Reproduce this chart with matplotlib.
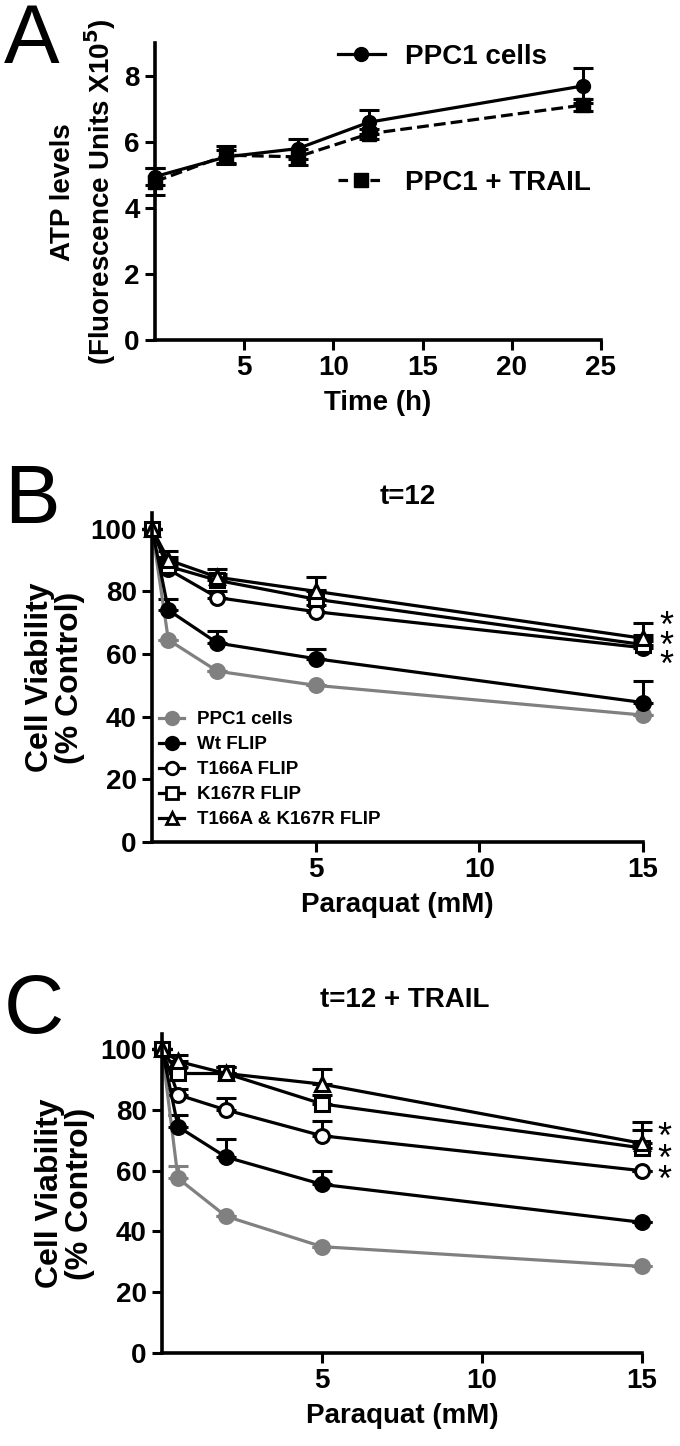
import numpy as np
import matplotlib
matplotlib.use("Agg")
import matplotlib.pyplot as plt
from matplotlib.lines import Line2D

plt.rcParams["font.family"] = ["Liberation Sans", "DejaVu Sans"]
plt.rcParams["font.weight"] = "bold"

# ===== Panel A data =====
TIME_H = [0, 4, 8, 12, 24]
ATP_CELLS = [4.95, 5.55, 5.8, 6.6, 7.7]
ATP_CELLS_ERR = [0.25, 0.2, 0.3, 0.37, 0.53]
ATP_TRAIL = [4.8, 5.6, 5.55, 6.25, 7.12]
ATP_TRAIL_ERR = [0.4, 0.28, 0.25, 0.15, 0.18]

# ===== Panel B / C data =====
PARAQUAT = [0, 0.5, 2, 5, 15]
SERIES = ["PPC1 cells", "Wt FLIP", "T166A FLIP", "K167R FLIP", "T166A & K167R FLIP"]

B_VALUES = [
    [100, 64.5, 54.5, 50, 40.5],
    [100, 74, 63.5, 58.5, 44.5],
    [100, 87, 78, 73.5, 62],
    [100, 88, 83.5, 77.5, 63],
    [100, 90, 84.5, 80, 65],
]
B_ERR = [
    [0, 0, 0, 0, 0],
    [0, 3.5, 4, 3, 7],
    [0, 2, 2, 2, 2],
    [0, 3, 2, 3, 3],
    [0, 3, 2.5, 4.5, 5],
]
# significance marks: (centre y, number of stars, line spacing)
B_STARS = (65.2, 3, 0.42)

C_VALUES = [
    [100, 57.5, 45, 35, 28.5],
    [100, 74.5, 64.5, 55.5, 43],
    [100, 85, 80, 71.5, 60],
    [100, 92, 92, 82, 67.5],
    [100, 96, 92, 88.5, 69],
]
C_ERR = [
    [0, 4, 0, 0, 0],
    [0, 4, 6, 4.5, 0],
    [0, 2, 4, 5, 0],
    [0, 2, 2, 3, 6],
    [0, 2, 2, 5, 7],
]
C_STARS = (66.5, 3, 0.5)

# style per series: color, marker, face
STYLES = [
    ("#808080", "o", "#808080"),
    ("black", "o", "black"),
    ("black", "o", "white"),
    ("black", "s", "white"),
    ("black", "^", "white"),
]

W, H = 680, 1446
FS = 20
LW = 2.3


def box(left, right, bottom, top):
    # pixel box -> figure fraction
    return [left / W, 1 - bottom / H, (right - left) / W, (bottom - top) / H]


def style_axes(ax):
    for s in ["top", "right"]:
        ax.spines[s].set_visible(False)
    for s in ["left", "bottom"]:
        ax.spines[s].set_linewidth(2.6)
    ax.tick_params(width=2.2, length=7, labelsize=FS, direction="out", pad=4)
    for lab in ax.get_xticklabels() + ax.get_yticklabels():
        lab.set_fontweight("bold")


fig = plt.figure(figsize=(W / 100, H / 100), dpi=100)

# ===== Panel A =====
axA = fig.add_axes(box(155, 601, 340, 43))
axA.errorbar(TIME_H, ATP_CELLS, yerr=ATP_CELLS_ERR, color="black", lw=LW,
             marker="o", ms=10, capsize=7, capthick=2.2, elinewidth=2.2, clip_on=False)
axA.errorbar(TIME_H, ATP_TRAIL, yerr=ATP_TRAIL_ERR, color="black", lw=LW, ls="--",
             marker="s", ms=10, capsize=7, capthick=2.2, elinewidth=2.2, clip_on=False)
axA.set_xlim(0, 25)
axA.set_ylim(0, 9)
axA.set_xticks([5, 10, 15, 20, 25])
axA.set_yticks([0, 2, 4, 6, 8])
axA.set_xlabel("Time (h)", fontsize=FS, fontweight="bold", labelpad=6)
style_axes(axA)
# two-line y label, each line placed on its own
fig.text(63 / W, 1 - 192 / H, "ATP levels", fontsize=FS, fontweight="bold",
         rotation=90, ha="center", va="center")
fig.text(100 / W, 1 - 192 / H, "(Fluorescence Units X10$^{\\mathbf{5}}$)", fontsize=FS,
         fontweight="bold", rotation=90, ha="center", va="center")
axA.legend([Line2D([], [], color="black", lw=LW, marker="o", ms=10),
            Line2D([], [], color="black", lw=LW, ls=(0, (3, 2)), marker="s", ms=10)],
           ["PPC1 cells", "PPC1 + TRAIL"], loc="center left",
           bbox_to_anchor=(0.41, 0.74), frameon=False, labelspacing=3.6,
           borderpad=0, borderaxespad=0, handlelength=1.7, handletextpad=0.7,
           prop={"size": FS, "weight": "bold"})
fig.text(4 / W, 1 - 63 / H, "A", fontsize=60, fontweight="normal", ha="left", va="baseline")


def draw_viability(ax, values, errs, stars):
    for (col, mk, face), vals, err in zip(STYLES, values, errs):
        ax.errorbar(PARAQUAT, vals, yerr=[np.zeros(len(err)), err], color=col, lw=LW,
                    marker=mk, ms=10, mfc=face, mec=col, mew=2.2, capsize=7,
                    capthick=2.2, elinewidth=2.2, clip_on=False)
    ax.set_xlim(0, 15)
    ax.set_ylim(0, 105)
    ax.set_xticks([5, 10, 15])
    ax.set_yticks([0, 20, 40, 60, 80, 100])
    ax.set_xlabel("Paraquat (mM)", fontsize=FS, fontweight="bold", labelpad=6)
    ax.set_ylabel("Cell Viability\n(% Control)", fontsize=23, fontweight="bold",
                  labelpad=4, linespacing=1.0)
    style_axes(ax)
    yv, n, spacing = stars
    # asterisks sit high in the line box, so shift the block down a little
    ax.text(15.7, yv - 3, "\n".join("*" * n), fontsize=26, fontweight="normal",
            linespacing=spacing, ha="center", va="center", clip_on=False)


# ===== Panel B =====
axB = fig.add_axes(box(152, 643, 842, 513))
draw_viability(axB, B_VALUES, B_ERR, B_STARS)
handles = [Line2D([], [], color=c, lw=LW, marker=m, ms=9, mfc=f, mec=c, mew=2)
           for c, m, f in STYLES]
axB.legend(handles, SERIES, loc="center left", bbox_to_anchor=(0.015, 0.22),
           frameon=False, borderpad=0, borderaxespad=0, handlelength=1.3,
           handletextpad=0.7, labelspacing=0.42, prop={"size": 13.5, "weight": "bold"})
fig.text(408 / W, 1 - 497 / H, "t=12", fontsize=FS, fontweight="bold", ha="center", va="center")
fig.text(4 / W, 1 - 523 / H, "B", fontsize=60, fontweight="normal", ha="left", va="baseline")

# ===== Panel C =====
axC = fig.add_axes(box(162, 642, 1353, 1034))
draw_viability(axC, C_VALUES, C_ERR, C_STARS)
fig.text(405 / W, 1 - 1000 / H, "t=12 + TRAIL", fontsize=FS, fontweight="bold",
         ha="center", va="center")
fig.text(4 / W, 1 - 1033 / H, "C", fontsize=60, fontweight="normal", ha="left", va="baseline")

fig.savefig("out.png", dpi=100)
